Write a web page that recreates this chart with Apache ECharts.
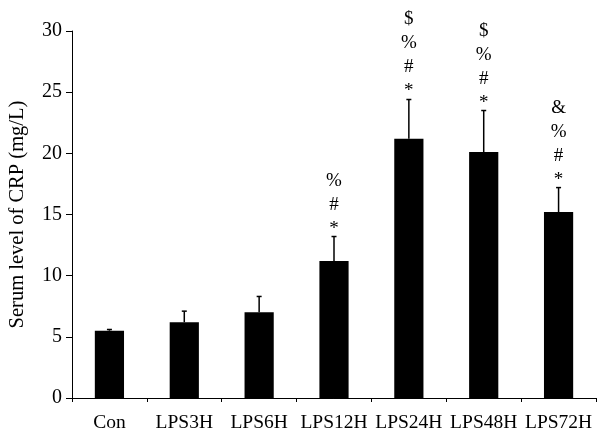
<!DOCTYPE html>
<html><head><meta charset="utf-8">
<script src="https://cdn.jsdelivr.net/npm/echarts@6/dist/echarts.min.js"></script>
<style>html,body{margin:0;padding:0;background:#fff}#c{width:598px;height:435px}</style>
</head><body><div id="c"></div>
<script>
var categories = ["Con","LPS3H","LPS6H","LPS12H","LPS24H","LPS48H","LPS72H"];
var means = [5.5, 6.2, 7.0, 11.2, 21.2, 20.1, 15.2];
var errors = [0.1, 0.9, 1.3, 2.0, 3.2, 3.4, 2.0];
var marks = ["", "", "", "%\n#\n*", "$\n%\n#\n*", "$\n%\n#\n*", "&\n%\n#\n*"];
var yTicks = [0, 5, 10, 15, 20, 25, 30];

var chart = echarts.init(document.getElementById('c'));
var font = '"Liberation Serif", "DejaVu Serif", serif';
chart.setOption({
  animation: false,
  grid: {left: 72, right: 2, top: 31, bottom: 37, outerBoundsMode: 'none', containLabel: false},
  xAxis: {
    type: 'category', data: categories,
    axisLine: {lineStyle: {color: '#000', width: 1}},
    axisTick: {show: true, length: 4, lineStyle: {color: '#000'}, alignWithLabel: false},
    axisLabel: {color: '#000', fontFamily: font, fontSize: 19.5, margin: 15, interval: 0}
  },
  yAxis: {
    type: 'value', min: 0, max: 30, interval: 5,
    name: 'Serum level of CRP (mg/L)', nameLocation: 'middle', nameGap: 44,
    nameTextStyle: {color: '#000', fontFamily: font, fontSize: 20.5},
    axisLine: {show: true, lineStyle: {color: '#000', width: 1}},
    axisTick: {show: true, length: 6, inside: false, lineStyle: {color: '#000'}},
    splitLine: {show: false},
    axisLabel: {color: '#000', fontFamily: font, fontSize: 20, margin: 10,
      formatter: function (v) { return yTicks.indexOf(v) >= 0 ? String(v) : ''; }}
  },
  series: [
    {type: 'bar', data: means, barWidth: '39%', itemStyle: {color: '#000'}, z: 2},
    {
      type: 'custom', z: 3,
      data: categories.map(function (c, i) { return [i, means[i], means[i] + errors[i]]; }),
      renderItem: function (params, api) {
        var x = api.coord([api.value(0), 0])[0];
        var yb = api.coord([0, api.value(1)])[1];
        var yt = api.coord([0, api.value(2)])[1];
        var txt = marks[params.dataIndex];
        var children = [
          {type: 'line', shape: {x1: x, y1: yb, x2: x, y2: yt}, style: {stroke: '#000', lineWidth: 1.5}},
          {type: 'line', shape: {x1: x - 2.5, y1: yt, x2: x + 2.5, y2: yt}, style: {stroke: '#000', lineWidth: 1.5}}
        ];
        if (txt) {
          children.push({type: 'text', style: {text: txt, x: x, y: yt + 4, align: 'center', verticalAlign: 'bottom',
            font: '19px ' + font, fill: '#000', lineHeight: 24}});
        }
        return {type: 'group', children: children};
      }
    }
  ]
});
</script></body></html>
